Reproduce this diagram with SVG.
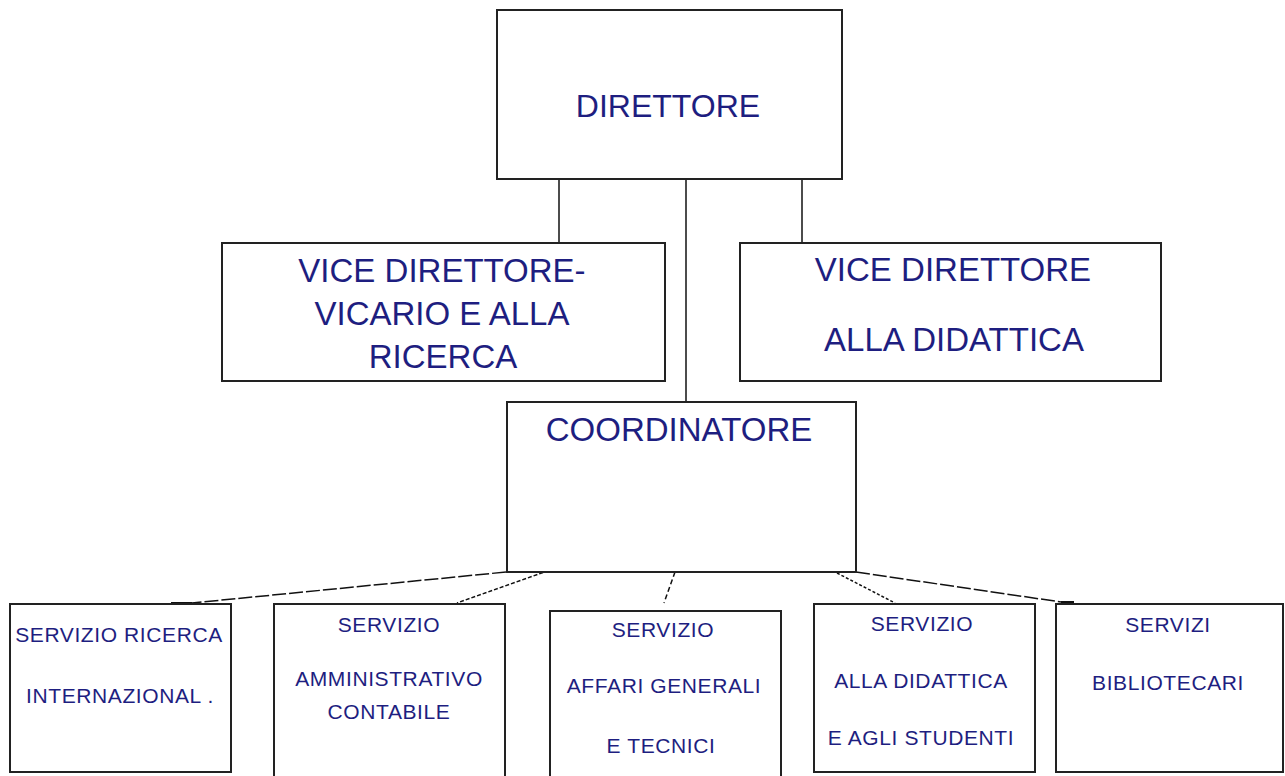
<svg xmlns="http://www.w3.org/2000/svg" width="1285" height="776" viewBox="0 0 1285 776">
<style>
.box{fill:#fff;stroke:#222;stroke-width:2}
.t{fill:#1e1e80;font-family:"Liberation Sans",Arial,sans-serif;text-anchor:middle}
.big{font-size:33px}
.sm{font-size:21px;letter-spacing:0.6px}
.c{stroke:#111;stroke-width:1.5;fill:none}
</style>
<rect width="1285" height="776" fill="#fff"/>
<g id="connectors">
<line class="c" x1="559" y1="179" x2="559" y2="243"/>
<line class="c" x1="686" y1="179" x2="686" y2="402"/>
<line class="c" x1="802" y1="179" x2="802" y2="243"/>
<line class="c" x1="506" y1="572" x2="192" y2="603" stroke-dasharray="14 3"/>
<line x1="171" y1="603.5" x2="192" y2="603.5" stroke="#111" stroke-width="3"/>
<line class="c" x1="543" y1="572.5" x2="457" y2="603" stroke-dasharray="4 2"/>
<line class="c" x1="675" y1="572" x2="664" y2="603" stroke-dasharray="5 3"/>
<line class="c" x1="837" y1="573" x2="895" y2="603" stroke-dasharray="3 2"/>
<line class="c" x1="856" y1="572" x2="1061" y2="602" stroke-dasharray="14 3"/>
<line x1="1061" y1="602.5" x2="1074" y2="602.5" stroke="#111" stroke-width="3"/>
</g>
<g id="direttore">
<rect class="box" x="497" y="10" width="345" height="169"/>
<text class="t" x="668" y="117" style="font-size:32px">DIRETTORE</text>
</g>
<g id="vice-vicario">
<rect class="box" x="222" y="243" width="443" height="138"/>
<text class="t big" x="442" y="282">VICE DIRETTORE-</text>
<text class="t big" x="442" y="325">VICARIO E ALLA</text>
<text class="t big" x="443" y="368">RICERCA</text>
</g>
<g id="vice-didattica">
<rect class="box" x="740" y="243" width="421" height="138"/>
<text class="t big" x="953" y="281">VICE DIRETTORE</text>
<text class="t big" x="954" y="351">ALLA DIDATTICA</text>
</g>
<g id="coordinatore">
<rect class="box" x="507" y="402" width="349" height="170"/>
<text class="t big" x="679" y="441">COORDINATORE</text>
</g>
<g id="servizio-ricerca">
<rect class="box" x="10" y="604" width="221" height="168"/>
<text class="t sm" x="119" y="642">SERVIZIO RICERCA</text>
<text class="t sm" x="120" y="703">INTERNAZIONAL .</text>
</g>
<g id="servizio-amministrativo">
<rect class="box" x="274" y="604" width="231" height="180"/>
<text class="t sm" x="389" y="632">SERVIZIO</text>
<text class="t sm" x="389" y="686">AMMINISTRATIVO</text>
<text class="t sm" x="389" y="719">CONTABILE</text>
</g>
<g id="servizio-affari">
<rect class="box" x="550" y="611" width="231" height="180"/>
<text class="t sm" x="663" y="637">SERVIZIO</text>
<text class="t sm" x="664" y="693">AFFARI GENERALI</text>
<text class="t sm" x="661" y="753">E TECNICI</text>
</g>
<g id="servizio-didattica">
<rect class="box" x="814" y="604" width="221" height="168"/>
<text class="t sm" x="922" y="631">SERVIZIO</text>
<text class="t sm" x="921" y="688">ALLA DIDATTICA</text>
<text class="t sm" x="921" y="745">E AGLI STUDENTI</text>
</g>
<g id="servizi-bibliotecari">
<rect class="box" x="1056" y="604" width="227" height="168"/>
<text class="t sm" x="1168" y="632">SERVIZI</text>
<text class="t sm" x="1168" y="690">BIBLIOTECARI</text>
</g>
</svg>
